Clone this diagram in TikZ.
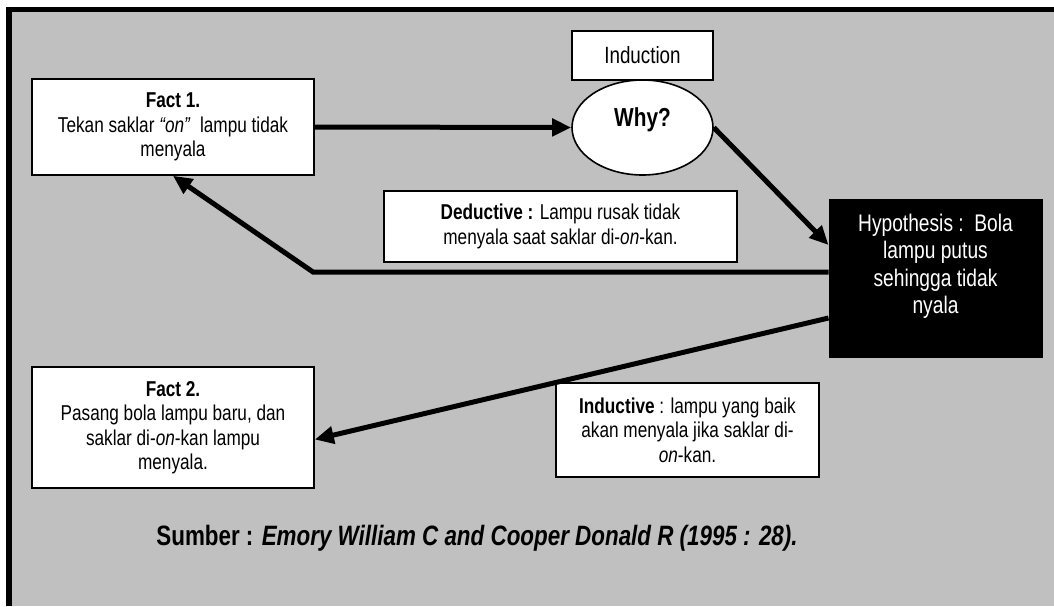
\documentclass[tikz,border=0pt]{standalone}
\usepackage{fontspec}
\setmainfont{Liberation Sans}[FakeStretch=0.8]
\usetikzlibrary{arrows.meta,shapes.geometric,calc}
\definecolor{panel}{HTML}{C0C0C0}
\begin{document}
\begin{tikzpicture}[x=1pt,y=-1pt,
  boxtext/.style={font=\fontsize{21.5}{24.5}\selectfont, align=center},
  whitebox/.style={draw=black, line width=1.6pt, fill=white, inner sep=0pt, boxtext},
  flow/.style={line width=5pt, -{Triangle[length=19pt,width=17pt]}},
]
\useasboundingbox (0,0) rectangle (1054,606);
% grey panel with its heavy frame
\fill[panel] (6,7) rectangle (1054,606);
\draw[line width=5.6pt] (9,606) -- (9,9.5) -- (1054,9.5);

% boxes
\node[whitebox, minimum width=282pt, minimum height=96pt] (fact1) at (173,127)
  {\textbf{Fact 1.}\\Tekan saklar \textit{“on”}\ \ lampu tidak\\menyala};
\node[whitebox, minimum width=141pt, minimum height=49pt] (induct) at (642.5,55.5)
  {\fontsize{23.5}{27}\selectfont Induction};
\node[whitebox, ellipse, minimum width=141pt, minimum height=95pt, text depth=20pt] (why) at (642.5,127.5)
  {\fontsize{26}{30}\selectfont\bfseries Why?};
\node[whitebox, minimum width=353pt, minimum height=71pt] (deduct) at (560.5,226.5)
  {\textbf{Deductive :} Lampu rusak tidak\\menyala saat saklar di-\textit{on}-kan.};
\node[draw=black, line width=1pt, fill=black, minimum width=213pt, minimum height=158pt] (hyp) at (935.5,278) {};
\node[anchor=north, text=white, align=center, font=\fontsize{24}{27.5}\selectfont] (hyptext) at ($(hyp.north)+(0,12)$)
  {Hypothesis :\ \ Bola\\lampu putus\\sehingga tidak\\nyala};
\node[whitebox, minimum width=282pt, minimum height=121pt] (fact2) at (173,427.5)
  {\textbf{Fact 2.}\\Pasang bola lampu baru, dan\\saklar di-\textit{on}-kan lampu\\menyala.};
\node[whitebox, minimum width=263pt, minimum height=94pt] (induc) at (687.5,430)
  {\textbf{Inductive} : lampu yang baik\\akan menyala jika saklar di-\\\textit{on}-kan.};

% source line
\node[font=\fontsize{28}{34}\selectfont\bfseries] (src) at (477,538)
  {Sumber : \textit{Emory William C and Cooper Donald R (1995 : 28).}};

% connectors
\coordinate (bend) at (313,272);
\draw[flow] (fact1.east) -- (why.west);
\draw[flow] (why.east) -- ($(hyp.west)+(0,-33)$);
\draw[flow] (hyp.west |- bend) -- (bend) -- (fact1.south);
\draw[flow] ($(hyp.west)+(0,40)$) -- ($(fact2.east)+(0,12)$);
\end{tikzpicture}
\end{document}
